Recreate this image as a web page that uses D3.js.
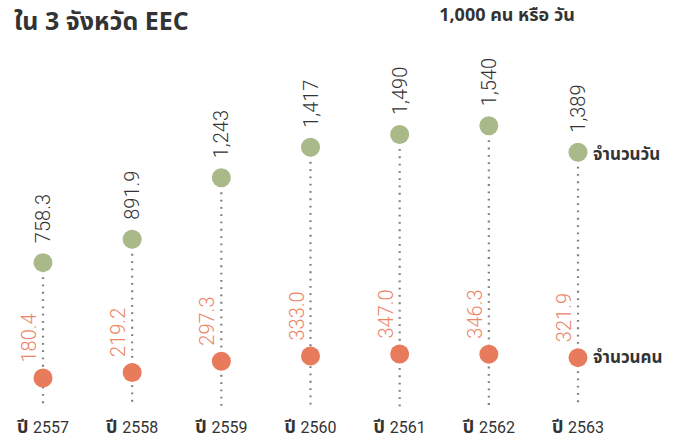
<!DOCTYPE html>
<html>
<head>
<meta charset="utf-8">
<script src="https://cdn.jsdelivr.net/npm/d3@7"></script>
<style>
  html, body { margin: 0; padding: 0; background: #fff; }
  svg { display: block; }
  .thai { font-family: "Noto Sans Thai", "Noto Sans Thai Looped", "Loma", "Garuda", "Tlwg Typo", "Noto Sans", sans-serif; }
  .num { font-family: Roboto, "Noto Sans", sans-serif; }
</style>
</head>
<body>
<svg id="chart" width="686" height="440"></svg>
<script>
// Years (Buddhist era) and the two series, in thousands
const years = ["2557", "2558", "2559", "2560", "2561", "2562", "2563"];
const days = [758.3, 891.9, 1243, 1417, 1490, 1540, 1389];     // จำนวนวัน
const people = [180.4, 219.2, 297.3, 333.0, 347.0, 346.3, 321.9]; // จำนวนคน
const dayLabels = ["758.3", "891.9", "1,243", "1,417", "1,490", "1,540", "1,389"];
const peopleLabels = ["180.4", "219.2", "297.3", "333.0", "347.0", "346.3", "321.9"];

const title = "ใน 3 จังหวัด EEC";
const unitText = "1,000 คน หรือ วัน";
const seriesNames = { days: "จำนวนวัน", people: "จำนวนคน" };

const green = "#a9b98a";
const orange = "#e77b5c";
const orangeText = "#ec8466";
const dark = "#333333";

const svg = d3.select("#chart");
const R = 9.5;

const x = d3.scalePoint().domain(years).range([43, 578]);
const yDays = d3.scaleLinear().domain([0, 1600]).range([395.5, 115.2]);
const yPeople = d3.scaleLinear().domain([0, 400]).range([404, 346.4]);
const lineBottom = 407;

const rows = years.map((yr, i) => ({
  yr, d: days[i], p: people[i], dl: dayLabels[i], pl: peopleLabels[i]
}));

// Title and unit note
svg.append("text").attr("class", "thai")
  .attr("x", 14).attr("y", 30)
  .attr("font-size", 25).attr("font-weight", 700).attr("fill", dark)
  .text(title);
svg.append("text").attr("class", "thai")
  .attr("x", 507).attr("y", 21).attr("text-anchor", "middle")
  .attr("font-size", 18).attr("font-weight", 700).attr("fill", dark)
  .text(unitText);

// Dotted stems from the day marker down to the baseline
svg.append("g").selectAll("line").data(rows).join("line")
  .attr("x1", d => x(d.yr)).attr("x2", d => x(d.yr))
  .attr("y1", d => yDays(d.d)).attr("y2", lineBottom)
  .attr("stroke", "#7f7f7f").attr("stroke-width", 2.2)
  .attr("stroke-dasharray", "1.8,5.5");

// Day markers and labels
svg.append("g").selectAll("circle").data(rows).join("circle")
  .attr("cx", d => x(d.yr)).attr("cy", d => yDays(d.d)).attr("r", R)
  .attr("fill", green);
svg.append("g").selectAll("text").data(rows).join("text")
  .attr("class", "num")
  .attr("transform", d => `translate(${x(d.yr)},${yDays(d.d) - R - 10}) rotate(-90)`)
  .attr("dominant-baseline", "central")
  .attr("font-size", 20).attr("font-weight", 300).attr("fill", dark)
  .text(d => d.dl);

// People markers and labels
svg.append("g").selectAll("circle").data(rows).join("circle")
  .attr("cx", d => x(d.yr)).attr("cy", d => yPeople(d.p)).attr("r", R)
  .attr("fill", orange);
svg.append("g").selectAll("text").data(rows).join("text")
  .attr("class", "num")
  .attr("transform", d => `translate(${x(d.yr) - 14},${yPeople(d.p) - R - 6}) rotate(-90)`)
  .attr("dominant-baseline", "central")
  .attr("font-size", 20).attr("font-weight", 300).attr("fill", orangeText)
  .text(d => d.pl);

// Series names next to the last points
const last = rows[rows.length - 1];
svg.append("text").attr("class", "thai")
  .attr("x", x(last.yr) + 15).attr("y", yDays(last.d) + 3)
  .attr("dominant-baseline", "central")
  .attr("font-size", 17).attr("font-weight", 700).attr("fill", dark)
  .text(seriesNames.days);
svg.append("text").attr("class", "thai")
  .attr("x", x(last.yr) + 15).attr("y", yPeople(last.p))
  .attr("dominant-baseline", "central")
  .attr("font-size", 17).attr("font-weight", 700).attr("fill", dark)
  .text(seriesNames.people);

// Year labels
const yl = svg.append("g").selectAll("text").data(rows).join("text")
  .attr("x", d => x(d.yr)).attr("y", 433)
  .attr("text-anchor", "middle").attr("fill", dark).attr("font-size", 16);
yl.append("tspan").attr("class", "thai").attr("font-weight", 700).attr("font-size", 18).text("ปี ");
yl.append("tspan").attr("class", "num").text(d => d.yr);
</script>
</body>
</html>
